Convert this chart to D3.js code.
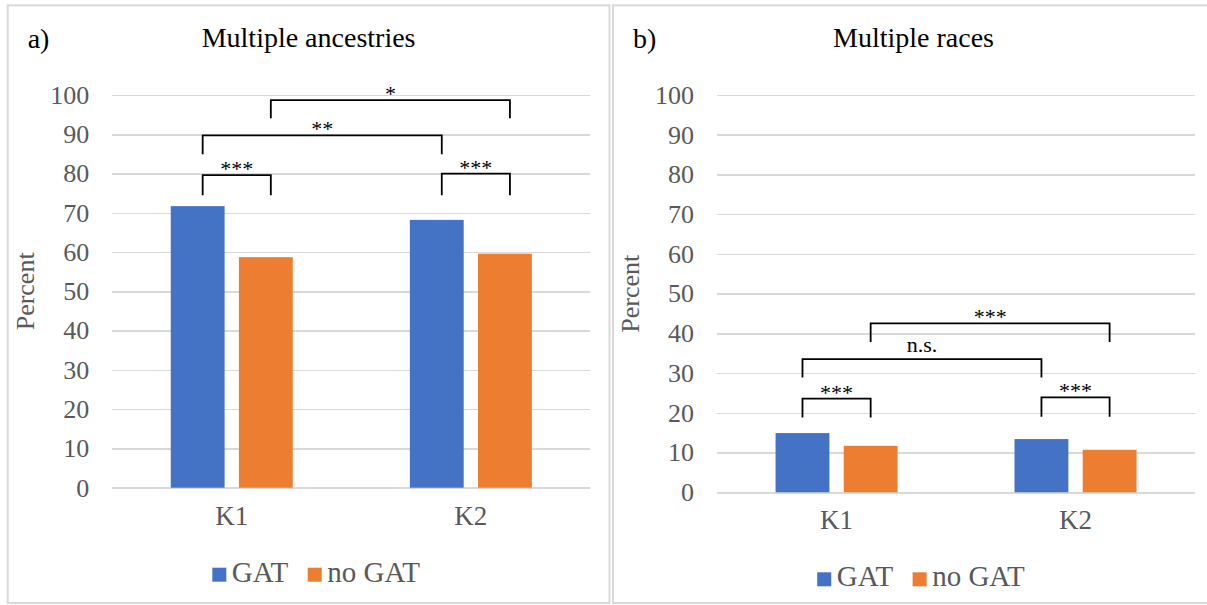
<!DOCTYPE html>
<html>
  <head>
    <meta charset="utf-8">
    <title>GAT charts</title>
    <style>
      body { margin: 0; background: #ffffff; }
      svg { display: block; }
      .grid line { stroke: #d9d9d9; stroke-width: 1.5px; shape-rendering: crispEdges; }
      .bracket { fill: none; stroke: #000000; stroke-width: 1.8px; }
      .panel-box { fill: none; stroke: #d9d9d9; stroke-width: 2px; }
    </style>
  </head>
  <body>
    <div id="chart"></div>
    <script src="https://cdn.jsdelivr.net/npm/d3@7"></script>
    <script>

      // categories and series
      var categories = ["K1", "K2"];
      var groups     = ["GAT", "no GAT"];
      var colors     = ["#4472C4", "#ED7D31"];
      var yTicks     = [0, 10, 20, 30, 40, 50, 60, 70, 80, 90, 100];

      // a) multiple ancestries, percent
      var ancestryGAT   = [71.7, 68.2];
      var ancestryNoGAT = [58.7, 59.6];

      // b) multiple races, percent
      var raceGAT   = [14.9, 13.4];
      var raceNoGAT = [11.7, 10.7];

      // significance brackets: from bar, to bar, height, leg end, label
      var ancestryBrackets = [
        { from: ["K1", "GAT"], to: ["K1", "no GAT"], y: 79.6, leg: 74.5, label: "***" },
        { from: ["K2", "GAT"], to: ["K2", "no GAT"], y: 80.0, leg: 74.5, label: "***" },
        { from: ["K1", "GAT"], to: ["K2", "GAT"],    y: 89.7, leg: 84.9, label: "**" },
        { from: ["K1", "no GAT"], to: ["K2", "no GAT"], y: 98.7, leg: 94.1, label: "*" }
      ];
      var raceBrackets = [
        { from: ["K1", "GAT"], to: ["K1", "no GAT"], y: 23.6, leg: 18.8, label: "***" },
        { from: ["K2", "GAT"], to: ["K2", "no GAT"], y: 23.9, leg: 19.0, label: "***" },
        { from: ["K1", "GAT"], to: ["K2", "GAT"],    y: 33.5, leg: 28.9, label: "n.s." },
        { from: ["K1", "no GAT"], to: ["K2", "no GAT"], y: 42.5, leg: 37.8, label: "***" }
      ];

      var W = 1207, H = 605;
      var FONT = "'Liberation Serif', 'Times New Roman', serif";

      var panels = [
        { tag: "a)", title: "Multiple ancestries", gat: ancestryGAT, nogat: ancestryNoGAT, brackets: ancestryBrackets,
          box: [7.7, 5.3, 609.5, 603], x0: 112.2, x1: 590.4, yTop: 95, yBot: 487.7, shift: 5 },
        { tag: "b)", title: "Multiple races", gat: raceGAT, nogat: raceNoGAT, brackets: raceBrackets,
          box: [613, 5.3, 1214, 603], x0: 717.1, x1: 1195, yTop: 95, yBot: 492.3, shift: 0 }
      ];

      var svg = d3.select("#chart")
                  .append("svg")
                  .attr("width", W)
                  .attr("height", H)
                  .style("font-family", FONT);

      panels.forEach(function(p) {
        var g = svg.append("g");
        var bx = p.box;
        var cx = (bx[0] + bx[2]) / 2;

        g.append("rect")
          .attr("class", "panel-box")
          .attr("x", bx[0]).attr("y", bx[1])
          .attr("width", bx[2] - bx[0]).attr("height", bx[3] - bx[1]);

        var x = d3.scaleBand().domain(categories).range([p.x0, p.x1]);
        var bw = x.bandwidth();
        var xs = d3.scaleBand().domain(groups)
                   .range([bw / 2 - 61, bw / 2 + 61])
                   .paddingInner(0.21);
        var y = d3.scaleLinear().domain([0, 100]).range([p.yBot, p.yTop]);

        // gridlines + tick labels
        var yAxis = d3.axisLeft(y)
                      .tickValues(yTicks)
                      .tickSizeInner(-(p.x1 - p.x0))
                      .tickSizeOuter(0)
                      .tickPadding(23)
                      .tickFormat(d3.format("d"));
        var gy = g.append("g")
                  .attr("class", "grid")
                  .attr("transform", "translate(" + p.x0 + ",0)")
                  .call(yAxis);
        gy.select(".domain").remove();
        gy.attr("font-family", null).attr("font-size", null);
        gy.selectAll("text").style("font-size", "26px").style("fill", "#595959");

        // category labels
        var gx = g.append("g")
                  .attr("transform", "translate(0," + p.yBot + ")")
                  .call(d3.axisBottom(x).tickSize(0).tickPadding(18));
        gx.select(".domain").remove();
        gx.attr("font-family", null).attr("font-size", null);
        gx.selectAll("text").style("font-size", "27px").style("fill", "#595959");

        // bars
        var rows = [];
        categories.forEach(function(c, i) {
          rows.push({ cat: c, grp: "GAT", v: p.gat[i] });
          rows.push({ cat: c, grp: "no GAT", v: p.nogat[i] });
        });
        g.append("g").selectAll("rect")
          .data(rows)
          .enter().append("rect")
          .attr("x", function(d) { return x(d.cat) + xs(d.grp); })
          .attr("y", function(d) { return y(d.v); })
          .attr("width", xs.bandwidth())
          .attr("height", function(d) { return p.yBot - y(d.v); })
          .attr("fill", function(d) { return colors[groups.indexOf(d.grp)]; });

        // brackets
        function barMid(pair) { return x(pair[0]) + xs(pair[1]) + xs.bandwidth() / 2 + p.shift; }
        var gb = g.append("g");
        gb.selectAll("path")
          .data(p.brackets)
          .enter().append("path")
          .attr("class", "bracket")
          .attr("d", function(d) {
            var a = barMid(d.from), b = barMid(d.to);
            return "M" + a + "," + y(d.leg) + "V" + y(d.y) + "H" + b + "V" + y(d.leg);
          });
        gb.selectAll("text")
          .data(p.brackets)
          .enter().append("text")
          .attr("x", function(d) { return (barMid(d.from) + barMid(d.to)) / 2; })
          .attr("y", function(d) { return y(d.y) + (d.label.indexOf("*") >= 0 ? 1 : -7); })
          .attr("text-anchor", "middle")
          .style("font-size", "22px")
          .style("fill", "#000")
          .text(function(d) { return d.label; });

        // y label
        g.append("text")
          .attr("transform", "translate(" + (bx[0] + 26) + "," + ((p.yTop + p.yBot) / 2) + ") rotate(-90)")
          .attr("text-anchor", "middle")
          .style("font-size", "26px")
          .style("fill", "#595959")
          .text("Percent");

        // title + tag
        g.append("text")
          .attr("x", cx).attr("y", 47)
          .attr("text-anchor", "middle")
          .style("font-size", "28px")
          .style("fill", "#000")
          .text(p.title);
        g.append("text")
          .attr("x", bx[0] + 20).attr("y", 48)
          .style("font-size", "28px")
          .style("fill", "#000")
          .text(p.tag);

        // legend
        var lg = g.append("g");
        var ly = p.yBot + 80;
        var cursor = 0;
        groups.forEach(function(name, i) {
          lg.append("rect")
            .attr("x", cursor).attr("y", ly)
            .attr("width", 14).attr("height", 14)
            .attr("fill", colors[i]);
          var t = lg.append("text")
            .attr("x", cursor + 19.5).attr("y", ly + 14)
            .style("font-size", "29px")
            .style("fill", "#595959")
            .text(name);
          cursor += 19.5 + t.node().getComputedTextLength() + 19.5;
        });
        var total = cursor - 19.5;
        lg.attr("transform", "translate(" + (cx + 7.5 - total / 2) + ",0)");
      });

    </script>
  </body>
</html>
